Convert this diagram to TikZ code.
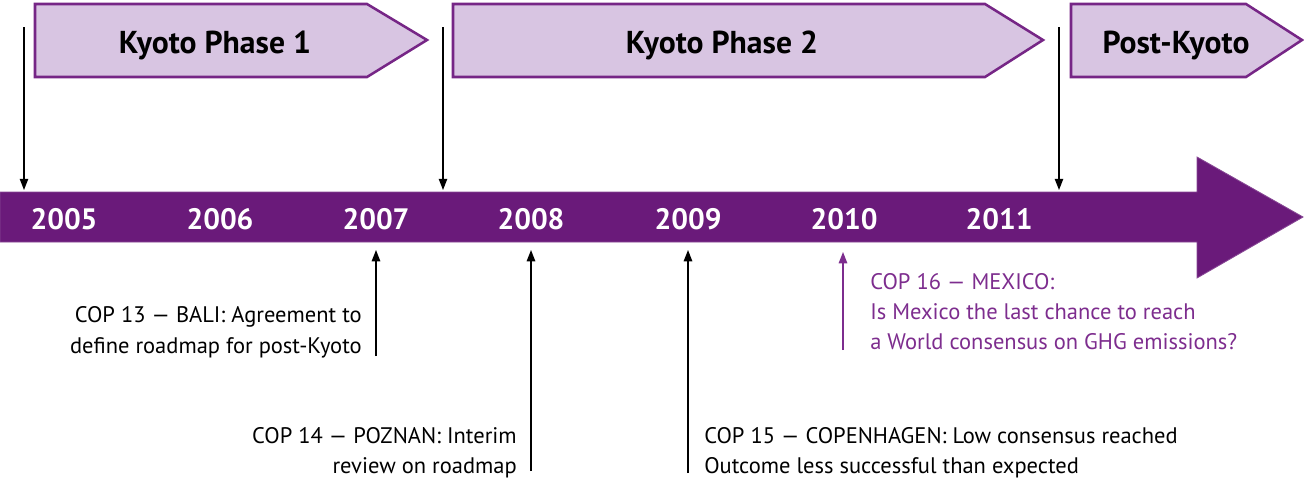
\documentclass[tikz,border=0pt]{standalone}
\usepackage{fontspec}
\setmainfont{PT Sans}
\usetikzlibrary{arrows.meta}
\definecolor{bandcol}{RGB}{106,26,122}
\definecolor{boxfill}{RGB}{216,197,226}
\definecolor{boxline}{RGB}{118,38,134}
\definecolor{mexcol}{RGB}{125,45,142}
\tikzset{
  phasebox/.style={draw=boxline, fill=boxfill, line width=1.8pt, line join=miter},
  phaselabel/.style={anchor=base, inner sep=0pt, font=\fontsize{22.5}{26}\selectfont\bfseries},
  yearlabel/.style={anchor=base, inner sep=0pt, text=white, font=\fontsize{21}{24}\selectfont\bfseries},
  bandshape/.style={fill=bandcol, draw=bandcol!80!white, line width=0.6pt},
  note/.style={inner sep=0pt, font=\fontsize{16}{22}\selectfont},
  marker/.style={draw=black, line width=1pt, -{Triangle[length=8pt,width=6pt]}},
  mexmarker/.style={draw=mexcol, line width=1pt, -{Triangle[length=8pt,width=6pt]}},
}
\begin{document}
\begin{tikzpicture}[x=0.025cm, y=-0.025cm]
\useasboundingbox (0,0) rectangle (1304,480);
% phase boxes
\draw[phasebox] (35,4) -- (367,4) -- (427,40) -- (367,77) -- (35,77) -- cycle;
\draw[phasebox] (453,4) -- (985,4) -- (1043,40) -- (985,77) -- (453,77) -- cycle;
\draw[phasebox] (1071,4) -- (1246,4) -- (1302,40) -- (1246,77) -- (1071,77) -- cycle;
\node[phaselabel] (p1) at (215,53) {Kyoto Phase 1};
\node[phaselabel] (p2) at (722,53) {Kyoto Phase 2};
\node[phaselabel] (p3) at (1176,53) {Post-Kyoto};
% band arrow
\draw[bandshape] (0,192) -- (1197,192) -- (1197,157) -- (1303,217) -- (1197,278) -- (1197,242) -- (0,242) -- cycle;
\node[yearlabel] (y2005) at (64,229) {2005};
\node[yearlabel] (y2006) at (220,229) {2006};
\node[yearlabel] (y2007) at (376,229) {2007};
\node[yearlabel] (y2008) at (531,229) {2008};
\node[yearlabel] (y2009) at (688,229) {2009};
\node[yearlabel] (y2010) at (844,229) {2010};
\node[yearlabel] (y2011) at (999,229) {2011};
% downward markers
\coordinate (d1s) at (24,27);   \coordinate (d1e) at (24,190);
\coordinate (d2s) at (443,27);  \coordinate (d2e) at (443,190);
\coordinate (d3s) at (1059,27); \coordinate (d3e) at (1059,190);
\draw[marker] (d1s) -- (d1e);
\draw[marker] (d2s) -- (d2e);
\draw[marker] (d3s) -- (d3e);
% upward markers
\coordinate (u1s) at (376,356); \coordinate (u1e) at (376,250);
\coordinate (u2s) at (531,471); \coordinate (u2e) at (531,250);
\coordinate (u3s) at (688,473); \coordinate (u3e) at (688,250);
\coordinate (u4s) at (843,350); \coordinate (u4e) at (843,252);
\draw[marker] (u1s) -- (u1e);
\draw[marker] (u2s) -- (u2e);
\draw[marker] (u3s) -- (u3e);
\draw[mexmarker] (u4s) -- (u4e);
% notes
\node[note, anchor=base east] (bali1) at (362,322) {COP 13 — BALI: Agreement to};
\node[note, anchor=base east] (bali2) at (362,353) {define roadmap for post-Kyoto};
\node[note, anchor=base east] (poz1) at (517,443) {COP 14 — POZNAN: Interim};
\node[note, anchor=base east] (poz2) at (517,473) {review on roadmap};
\node[note, anchor=base west] (cop1) at (704,443) {COP 15 — COPENHAGEN: Low consensus reached};
\node[note, anchor=base west] (cop2) at (704,473) {Outcome less successful than expected};
\node[note, anchor=base west, text=mexcol] (mex1) at (870,289) {COP 16 — MEXICO:};
\node[note, anchor=base west, text=mexcol] (mex2) at (870,319) {Is Mexico the last chance to reach};
\node[note, anchor=base west, text=mexcol] (mex3) at (870,349) {a World consensus on GHG emissions?};
\end{tikzpicture}
\end{document}
